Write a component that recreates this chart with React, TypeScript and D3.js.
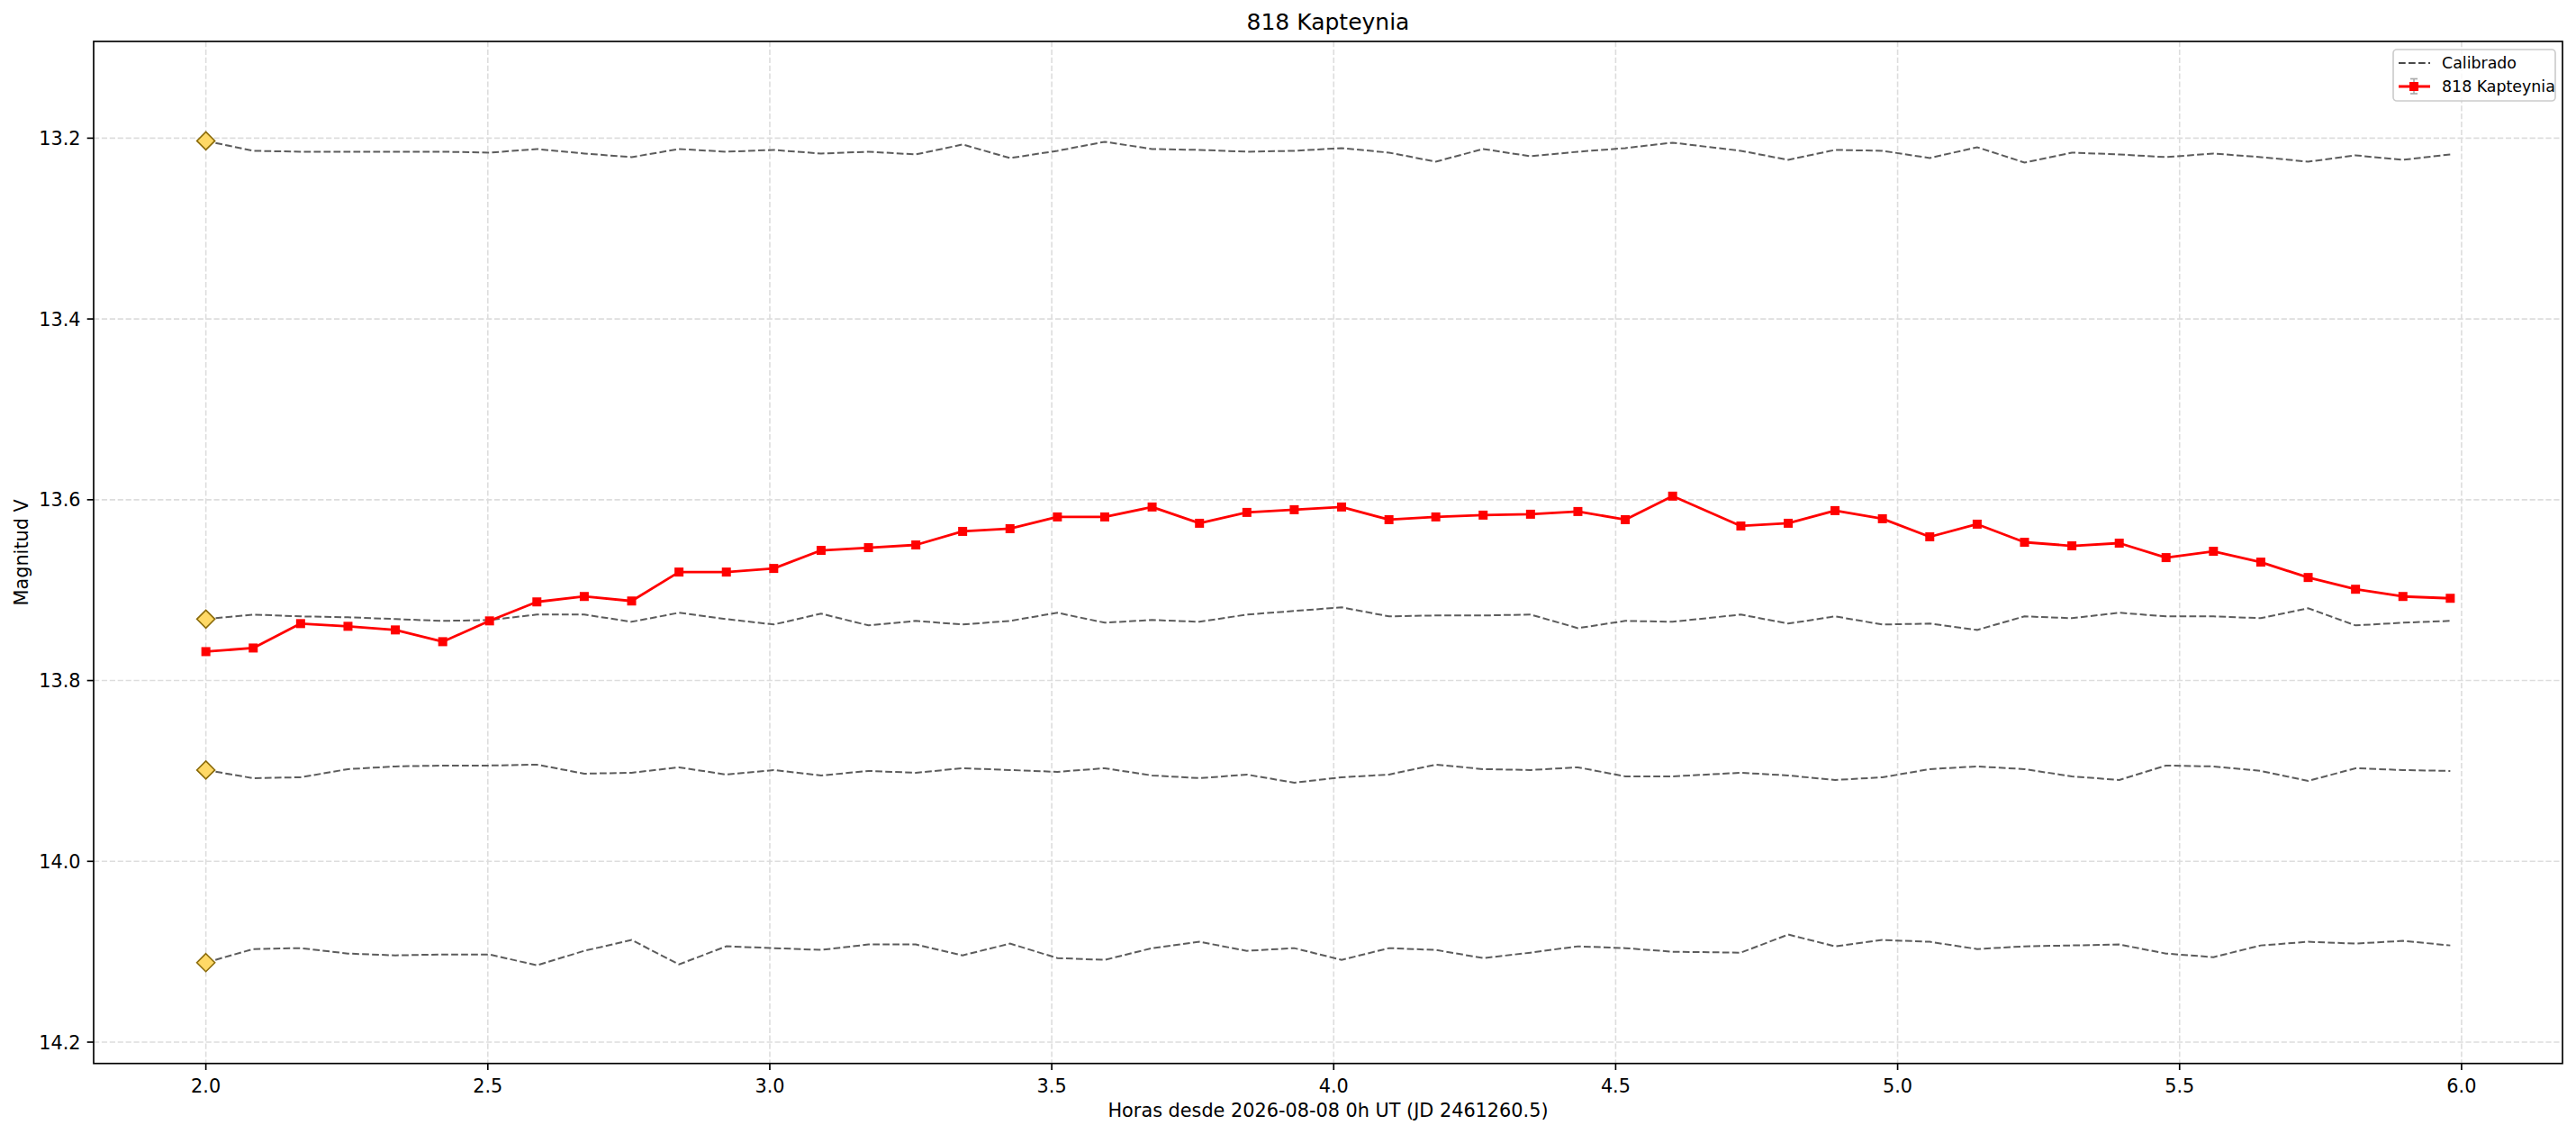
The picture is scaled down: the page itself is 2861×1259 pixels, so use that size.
import React from "react";
import * as d3 from "d3";

const W = 2861;
const H = 1259;

const hours = [2.000, 2.084, 2.168, 2.252, 2.336, 2.420, 2.503, 2.587, 2.671, 2.755, 2.839, 2.923, 3.007, 3.091, 3.175, 3.259, 3.342, 3.426, 3.510, 3.594, 3.678, 3.762, 3.846, 3.930, 4.014, 4.098, 4.181, 4.265, 4.349, 4.433, 4.517, 4.601, 4.722, 4.806, 4.889, 4.973, 5.057, 5.141, 5.225, 5.309, 5.393, 5.476, 5.560, 5.644, 5.728, 5.812, 5.896, 5.980];

const target = [13.768, 13.764, 13.737, 13.740, 13.744, 13.757, 13.734, 13.713, 13.707, 13.712, 13.680, 13.680, 13.676, 13.656, 13.653, 13.650, 13.635, 13.632, 13.619, 13.619, 13.608, 13.626, 13.614, 13.611, 13.608, 13.622, 13.619, 13.617, 13.616, 13.613, 13.622, 13.596, 13.629, 13.626, 13.612, 13.621, 13.641, 13.627, 13.647, 13.651, 13.648, 13.664, 13.657, 13.669, 13.686, 13.699, 13.707, 13.709];

const comp1 = [13.203, 13.214, 13.215, 13.215, 13.215, 13.215, 13.216, 13.212, 13.217, 13.221, 13.212, 13.215, 13.213, 13.217, 13.215, 13.218, 13.207, 13.222, 13.214, 13.204, 13.212, 13.213, 13.215, 13.214, 13.211, 13.216, 13.226, 13.212, 13.220, 13.215, 13.211, 13.205, 13.214, 13.224, 13.213, 13.214, 13.222, 13.210, 13.227, 13.216, 13.218, 13.221, 13.217, 13.221, 13.226, 13.219, 13.224, 13.218];

const comp2 = [13.732, 13.727, 13.729, 13.730, 13.732, 13.734, 13.733, 13.727, 13.727, 13.735, 13.725, 13.732, 13.738, 13.726, 13.739, 13.734, 13.738, 13.734, 13.725, 13.736, 13.733, 13.735, 13.727, 13.723, 13.719, 13.729, 13.728, 13.728, 13.727, 13.742, 13.734, 13.735, 13.727, 13.737, 13.729, 13.738, 13.737, 13.744, 13.729, 13.731, 13.725, 13.729, 13.729, 13.731, 13.720, 13.739, 13.736, 13.734];

const comp3 = [13.899, 13.908, 13.907, 13.898, 13.895, 13.894, 13.894, 13.893, 13.903, 13.902, 13.896, 13.904, 13.899, 13.905, 13.900, 13.902, 13.897, 13.899, 13.901, 13.897, 13.905, 13.908, 13.904, 13.913, 13.907, 13.904, 13.893, 13.898, 13.899, 13.896, 13.906, 13.906, 13.902, 13.905, 13.910, 13.907, 13.898, 13.895, 13.898, 13.906, 13.910, 13.894, 13.895, 13.900, 13.911, 13.897, 13.899, 13.900];

const comp4 = [14.112, 14.097, 14.096, 14.102, 14.104, 14.103, 14.103, 14.115, 14.099, 14.087, 14.114, 14.094, 14.096, 14.098, 14.092, 14.092, 14.104, 14.091, 14.107, 14.109, 14.096, 14.089, 14.099, 14.096, 14.109, 14.096, 14.098, 14.107, 14.101, 14.094, 14.096, 14.100, 14.101, 14.081, 14.094, 14.087, 14.089, 14.097, 14.094, 14.093, 14.092, 14.102, 14.106, 14.093, 14.089, 14.091, 14.088, 14.093];

const comparisons = [comp1, comp2, comp3, comp4];

const xTicks = [2.0, 2.5, 3.0, 3.5, 4.0, 4.5, 5.0, 5.5, 6.0];
const yTicks = [13.2, 13.4, 13.6, 13.8, 14.0, 14.2];

const title = "818 Kapteynia";
const xLabel = "Horas desde 2026-08-08 0h UT (JD 2461260.5)";
const yLabel = "Magnitud V";
const legendCalib = "Calibrado";
const legendTarget = "818 Kapteynia";

const FONT = "'DejaVu Sans', sans-serif";

export default function App() {
  const left = 104, right = 2846, top = 46, bottom = 1180.7;
  const x = d3.scaleLinear().domain([1.801, 6.179]).range([left, right]);
  const y = d3.scaleLinear().domain([13.093, 14.2236]).range([top, bottom]);

  const line = d3
    .line<number>()
    .x((_, i) => x(hours[i]))
    .y((d) => y(d));

  const diamond = (cx: number, cy: number, r: number) =>
    `M${cx},${cy - r}L${cx + r},${cy}L${cx},${cy + r}L${cx - r},${cy}Z`;

  const ms = 10;

  return (
    <svg
      width={W}
      height={H}
      viewBox={`0 0 ${W} ${H}`}
      style={{ position: "absolute", left: 0, top: 0, display: "block", background: "#fff" }}
      fontFamily={FONT}
    >
      <rect x={0} y={0} width={W} height={H} fill="#fff" />
      {/* grid */}
      <g stroke="#dddddd" strokeWidth={1.6} strokeDasharray="6.2,2.7">
        {xTicks.map((t) => (
          <line key={"gx" + t} x1={x(t)} x2={x(t)} y1={top} y2={bottom} />
        ))}
        {yTicks.map((t) => (
          <line key={"gy" + t} x1={left} x2={right} y1={y(t)} y2={y(t)} />
        ))}
      </g>

      {/* comparison stars */}
      {comparisons.map((c, k) => (
        <path
          key={"c" + k}
          d={line(c) || ""}
          fill="none"
          stroke="#4a4a4a"
          strokeOpacity={0.9}
          strokeWidth={2.0}
          strokeDasharray="7.7,3.3"
        />
      ))}
      {comparisons.map((c, k) => (
        <path
          key={"d" + k}
          d={diamond(x(hours[0]), y(c[0]), 10)}
          fill="#FFD966"
          stroke="#8B6B0A"
          strokeWidth={1.6}
        />
      ))}

      {/* target */}
      <path d={line(target) || ""} fill="none" stroke="#ff0000" strokeWidth={2.8} strokeLinejoin="round" />
      {target.map((v, i) => (
        <rect
          key={"m" + i}
          x={x(hours[i]) - ms / 2}
          y={y(v) - ms / 2}
          width={ms}
          height={ms}
          fill="#ff0000"
        />
      ))}

      {/* spines */}
      <rect x={left} y={top} width={right - left} height={bottom - top} fill="none" stroke="#000" strokeWidth={1.67} />

      {/* x ticks */}
      {xTicks.map((t) => (
        <g key={"xt" + t}>
          <line x1={x(t)} x2={x(t)} y1={bottom} y2={bottom + 7.3} stroke="#000" strokeWidth={1.67} />
          <text x={x(t)} y={1213} textAnchor="middle" fontSize={20.8} fill="#000">
            {t.toFixed(1)}
          </text>
        </g>
      ))}
      {/* y ticks */}
      {yTicks.map((t) => (
        <g key={"yt" + t}>
          <line x1={left - 7.3} x2={left} y1={y(t)} y2={y(t)} stroke="#000" strokeWidth={1.67} />
          <text x={89.5} y={y(t) + 7.6} textAnchor="end" fontSize={20.8} fill="#000">
            {t.toFixed(1)}
          </text>
        </g>
      ))}

      {/* labels */}
      <text x={(left + right) / 2} y={33} textAnchor="middle" fontSize={25} fill="#000">
        {title}
      </text>
      <text x={(left + right) / 2} y={1240} textAnchor="middle" fontSize={20.8} fill="#000">
        {xLabel}
      </text>
      <text
        transform={`translate(31,${(top + bottom) / 2}) rotate(-90)`}
        textAnchor="middle"
        fontSize={20.8}
        fill="#000"
      >
        {yLabel}
      </text>

      {/* legend */}
      <g>
        <rect x={2658} y={55} width={180} height={57} rx={4} ry={4} fill="#fff" fillOpacity={0.8} stroke="#cccccc" strokeWidth={1.67} />
        <line x1={2664} x2={2699} y1={70} y2={70} stroke="#4a4a4a" strokeWidth={2.0} strokeDasharray="7.7,3.3" />
        <text x={2712} y={76} fontSize={17.4} fill="#000">
          {legendCalib}
        </text>
        <line x1={2664} x2={2699} y1={96} y2={96} stroke="#ff0000" strokeWidth={2.8} />
        <g stroke="#aaaaaa" strokeWidth={1.67}>
          <line x1={2681} x2={2681} y1={87.5} y2={104} />
          <line x1={2677} x2={2685} y1={87.5} y2={87.5} />
          <line x1={2677} x2={2685} y1={104} y2={104} />
        </g>
        <rect x={2681 - ms / 2} y={96 - ms / 2} width={ms} height={ms} fill="#ff0000" />
        <text x={2712} y={102} fontSize={17.4} fill="#000">
          {legendTarget}
        </text>
      </g>
    </svg>
  );
}
